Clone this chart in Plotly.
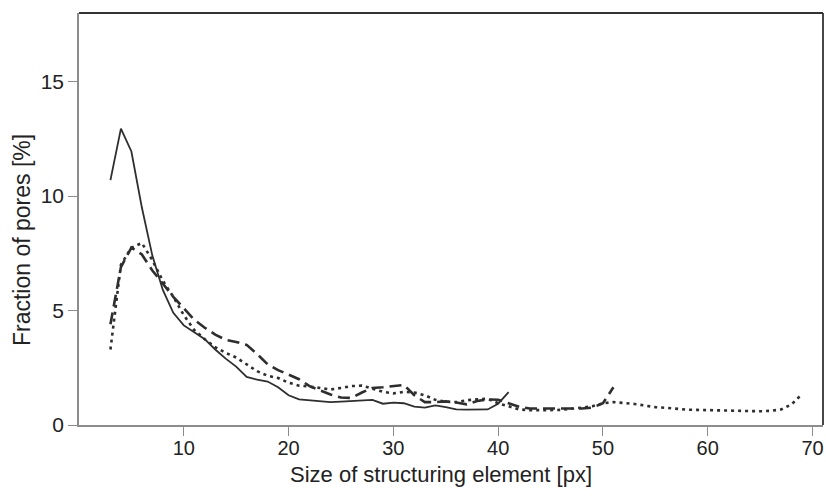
import plotly.graph_objects as go

# ---- data ----
size_solid = list(range(3, 42))
frac_solid = [10.7, 12.95, 11.95, 9.5, 7.4, 5.9, 4.9, 4.35, 4.05, 3.75,
              3.3, 2.9, 2.55, 2.1, 1.98, 1.9, 1.65, 1.3, 1.12, 1.08,
              1.05, 1.0, 1.02, 1.05, 1.08, 1.1, 0.93, 0.98, 0.95, 0.8,
              0.76, 0.86, 0.78, 0.68, 0.67, 0.67, 0.68, 0.93, 1.44]

size_dashed = list(range(3, 52))
frac_dashed = [4.4, 6.9, 7.75, 7.45, 6.75, 6.15, 5.6, 5.1, 4.6, 4.25,
               3.95, 3.72, 3.63, 3.5, 3.1, 2.65, 2.4, 2.2, 2.0, 1.7,
               1.5, 1.33, 1.2, 1.18, 1.42, 1.62, 1.65, 1.7, 1.75, 1.3,
               1.0, 1.0, 1.03, 0.98, 0.9, 1.05, 1.12, 1.1, 0.95, 0.8,
               0.72, 0.72, 0.72, 0.72, 0.7, 0.72, 0.76, 0.95, 1.65]

size_dotted = list(range(3, 70))
frac_dotted = [3.3, 7.0, 7.75, 7.95, 7.2, 6.3, 5.6, 4.8, 4.15, 3.75,
               3.4, 3.15, 2.95, 2.65, 2.35, 2.15, 2.05, 1.85, 1.72, 1.68,
               1.6, 1.55, 1.62, 1.7, 1.72, 1.58, 1.45, 1.38, 1.45, 1.42,
               1.3, 1.1, 1.02, 1.0, 1.08, 1.12, 1.15, 0.95, 0.8, 0.68,
               0.65, 0.64, 0.65, 0.66, 0.7, 0.76, 0.82, 0.95, 1.0, 0.97,
               0.92, 0.85, 0.78, 0.75, 0.7, 0.67, 0.66, 0.65, 0.64, 0.62,
               0.62, 0.6, 0.6, 0.62, 0.68, 0.9, 1.35]

x_ticks = [10, 20, 30, 40, 50, 60, 70]
y_ticks = [0, 5, 10, 15]
x_title = "Size of structuring element [px]"
y_title = "Fraction of pores [%]"

LINE = "#2e2e2e"
AXIS = "#8c8c8c"
FONT = "Liberation Sans, Arial, sans-serif"

fig = go.Figure()
fig.add_trace(go.Scatter(x=size_dotted, y=frac_dotted, mode="lines",
                         line=dict(color=LINE, width=2.6, dash="3px,4px"),
                         showlegend=False))
fig.add_trace(go.Scatter(x=size_dashed, y=frac_dashed, mode="lines",
                         line=dict(color=LINE, width=2.6, dash="12px,6px"),
                         showlegend=False))
fig.add_trace(go.Scatter(x=size_solid, y=frac_solid, mode="lines",
                         line=dict(color=LINE, width=1.8),
                         showlegend=False))

fig.update_layout(
    width=826, height=498,
    margin=dict(l=79, r=3, t=13, b=73),
    paper_bgcolor="white", plot_bgcolor="white",
    font=dict(family=FONT, size=21, color="#222"),
    xaxis=dict(range=[0, 71], tickvals=x_ticks, ticks="outside", ticklen=9,
               tickcolor=AXIS, showline=True, linecolor=AXIS, linewidth=1.5,
               showgrid=False, zeroline=False, automargin=False,
               ticklabelstandoff=-5,
               tickfont=dict(size=20, color="#222")),
    yaxis=dict(range=[0, 18], tickvals=y_ticks, ticks="outside", ticklen=9,
               tickcolor=AXIS, showline=True, linecolor=AXIS, linewidth=1.5,
               showgrid=False, zeroline=False, automargin=False,
               tickfont=dict(size=21, color="#222")),
    shapes=[
        dict(type="line", xref="paper", yref="paper", x0=0, x1=1, y0=1, y1=1,
             line=dict(color="#333", width=1.8)),
        dict(type="line", xref="paper", yref="paper", x0=1, x1=1, y0=0, y1=1,
             line=dict(color="#333", width=1.8)),
    ],
    annotations=[
        dict(text=x_title, xref="paper", yref="paper", x=0.4866, y=-0.119,
             xanchor="center", yanchor="middle", showarrow=False,
             font=dict(size=22, color="#222")),
        dict(text=y_title, xref="paper", yref="paper", x=-0.0766, y=0.449,
             xanchor="center", yanchor="middle", showarrow=False, textangle=-90,
             font=dict(size=23, color="#222")),
    ],
)

fig.write_html(
    "out.html",
    config={"displayModeBar": False},
    post_script="document.body.style.margin='0';document.body.style.overflow='hidden';",
)
